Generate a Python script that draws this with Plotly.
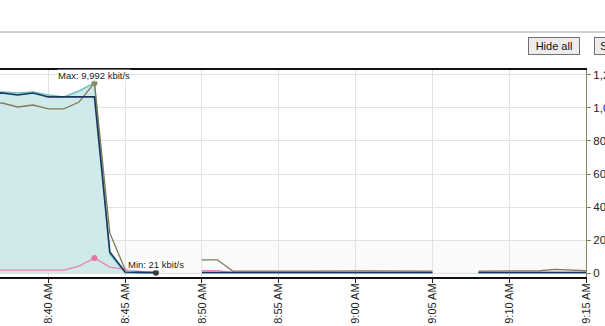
import plotly.graph_objects as go

# ---------------- data ----------------
times = ["08:36", "08:37", "08:38", "08:39", "08:40", "08:41", "08:42", "08:43",
         "08:44", "08:45", "08:46", "08:47", "08:48", "08:49", "08:50", "08:51",
         "08:52", "08:53", "08:54", "08:55", "08:56", "08:57", "08:58", "08:59",
         "09:00", "09:01", "09:02", "09:03", "09:04", "09:05", "09:06", "09:07",
         "09:08", "09:09", "09:10", "09:11", "09:12", "09:13", "09:14", "09:15"]

teal = [1095, 1097, 1091, 1097, 1079, 1067, 1103, 1152, 115, 0, 0, 0, None, None,
        1, 1, 1, 1, 1, 1, 1, 1, 1, 1, 1, 1, 1, 1, 1, 1, None, None,
        1, 1, 1, 1, 1, 1, 1, 1]
olive = [1025, 1030, 1006, 1018, 994, 994, 1036, 1152, 242, 20, 8, 6, None, None,
         80, 80, 12, 13, 12, 12, 12, 12, 11, 12, 13, 13, 12, 12, 12, 12, None, None,
         12, 12, 12, 12, 14, 22, 16, 14]
pink = [18, 18, 18, 18, 18, 18, 42, 91, 36, 22, 10, 6, None, None,
        14, 14, 4, 4, 4, 4, 4, 4, 4, 4, 4, 4, 4, 4, 4, 4, None, None,
        4, 4, 4, 4, 4, 4, 4, 4]
navy = [1085, 1091, 1079, 1091, 1067, 1067, 1067, 1067, 127, 6, 4, 2, None, None,
        3, 3, 3, 3, 3, 3, 3, 3, 3, 3, 3, 3, 3, 3, 3, 3, None, None,
        3, 3, 3, 3, 3, 3, 3, 3]

max_time = "08:43"
min_time = "08:47"
max_label = "Max: 9,992 kbit/s"
min_label = "Min: 21 kbit/s"

tick_times = ["08:40", "08:45", "08:50", "08:55", "09:00", "09:05", "09:10", "09:15"]
tick_labels = ["8:40 AM", "8:45 AM", "8:50 AM", "8:55 AM", "9:00 AM", "9:05 AM", "9:10 AM", "9:15 AM"]
y_ticks = [0, 200, 400, 600, 800, 1000, 1200]

DAY = "2013-01-01 "
xs = [DAY + t + ":00" for t in times]

def at(series, t):
    return series[times.index(t)]

# ---------------- layout geometry ----------------
W, H = 605, 326
ML, MR, MT, MB = 0, 19, 70, 49
PW, PH = W - ML - MR, H - MT - MB

def px_x(px):
    return (px - ML) / PW

def px_y(py):
    return (H - MB - py) / PH

FONT = "Liberation Sans, Arial"

fig = go.Figure()

fig.add_trace(go.Scatter(x=xs, y=teal, mode="lines", fill="tozeroy",
                         fillcolor="#d0eaeb", line=dict(color="#6cc0c4", width=1.5),
                         connectgaps=False, hoverinfo="skip"))
fig.add_trace(go.Scatter(x=xs, y=olive, mode="lines",
                         line=dict(color="#7f7b52", width=1.3), hoverinfo="skip"))
fig.add_trace(go.Scatter(x=xs, y=pink, mode="lines",
                         line=dict(color="#e884b0", width=1.3), hoverinfo="skip"))
fig.add_trace(go.Scatter(x=xs, y=navy, mode="lines",
                         line=dict(color="#1b365d", width=1.6), hoverinfo="skip"))

# markers
fig.add_trace(go.Scatter(x=[DAY + max_time + ":00"], y=[at(pink, max_time)], mode="markers",
                         marker=dict(color="#e873a6", size=6), hoverinfo="skip"))
fig.add_trace(go.Scatter(x=[DAY + max_time + ":00"], y=[at(olive, max_time)], mode="markers",
                         marker=dict(color="#8a8660", size=6), hoverinfo="skip"))
fig.add_trace(go.Scatter(x=[DAY + min_time + ":00"], y=[at(navy, min_time)], mode="markers",
                         marker=dict(color="#3a3a3a", size=6), hoverinfo="skip"))

annots = [
    dict(x=DAY + max_time + ":00", y=at(olive, max_time), xref="x", yref="y",
         text=max_label, showarrow=False, yanchor="bottom", yshift=1,
         font=dict(family=FONT, size=9.5, color="#222"),
         bgcolor="rgba(255,255,255,0.75)", borderpad=0),
    dict(x=DAY + min_time + ":00", y=at(navy, min_time), xref="x", yref="y",
         text=min_label, showarrow=False, yanchor="bottom", yshift=2,
         font=dict(family=FONT, size=9.5, color="#222"),
         bgcolor="rgba(255,255,255,0.75)", borderpad=0),
    dict(x=px_x(554), y=px_y(46.5), xref="paper", yref="paper", text="Hide all",
         showarrow=False, xanchor="center", yanchor="middle",
         font=dict(family=FONT, size=11, color="#111"),
         bgcolor="#ececec", bordercolor="#707070", borderwidth=1, borderpad=2,
         width=46, height=12),
    dict(x=px_x(594), y=px_y(46.5), xref="paper", yref="paper", text="Show all",
         showarrow=False, xanchor="left", yanchor="middle",
         font=dict(family=FONT, size=11, color="#111"),
         bgcolor="#ececec", bordercolor="#707070", borderwidth=1, borderpad=2,
         width=48, height=12),
]

shapes = [
    dict(type="line", xref="paper", yref="paper", x0=px_x(0), x1=px_x(W),
         y0=px_y(32), y1=px_y(32), line=dict(color="#a0a0a0", width=1)),
]
for lo, hi in [(0, 200)]:
    shapes.append(dict(type="rect", xref="paper", yref="y", x0=0, x1=1, y0=lo, y1=hi,
                       fillcolor="#fafafa", line=dict(width=0), layer="below"))

fig.update_layout(
    width=W, height=H,
    margin=dict(l=ML, r=MR, t=MT, b=MB, pad=0, autoexpand=False),
    paper_bgcolor="white", plot_bgcolor="white",
    showlegend=False,
    annotations=annots, shapes=shapes,
    font=dict(family=FONT, size=11, color="#222"),
    xaxis=dict(type="date", range=[DAY + "08:36:51", DAY + "09:15:00"],
               tickmode="array", tickvals=[DAY + t + ":00" for t in tick_times],
               ticktext=tick_labels, tickangle=-90, automargin=False,
               ticklabelstandoff=-4,
               tickfont=dict(family=FONT, size=11, color="#222"),
               ticks="outside", ticklen=4, tickcolor="#222",
               showgrid=True, gridcolor="#e2e2e2", gridwidth=1,
               showline=True, linecolor="#111", linewidth=2, mirror=True,
               zeroline=False, fixedrange=True),
    yaxis=dict(side="right", range=[-24, 1230], automargin=False,
               tickmode="array", tickvals=y_ticks, ticktext=[f"{v:,}" for v in y_ticks],
               tickfont=dict(family=FONT, size=11.5, color="#222"),
               ticks="outside", ticklen=4, tickcolor="#80805a",
               showgrid=True, gridcolor="#e2e2e2", gridwidth=1,
               showline=True, linecolor="#80805a", linewidth=1,
               zeroline=False, fixedrange=True),
)

fig.write_html("out.html", config={"displayModeBar": False})
